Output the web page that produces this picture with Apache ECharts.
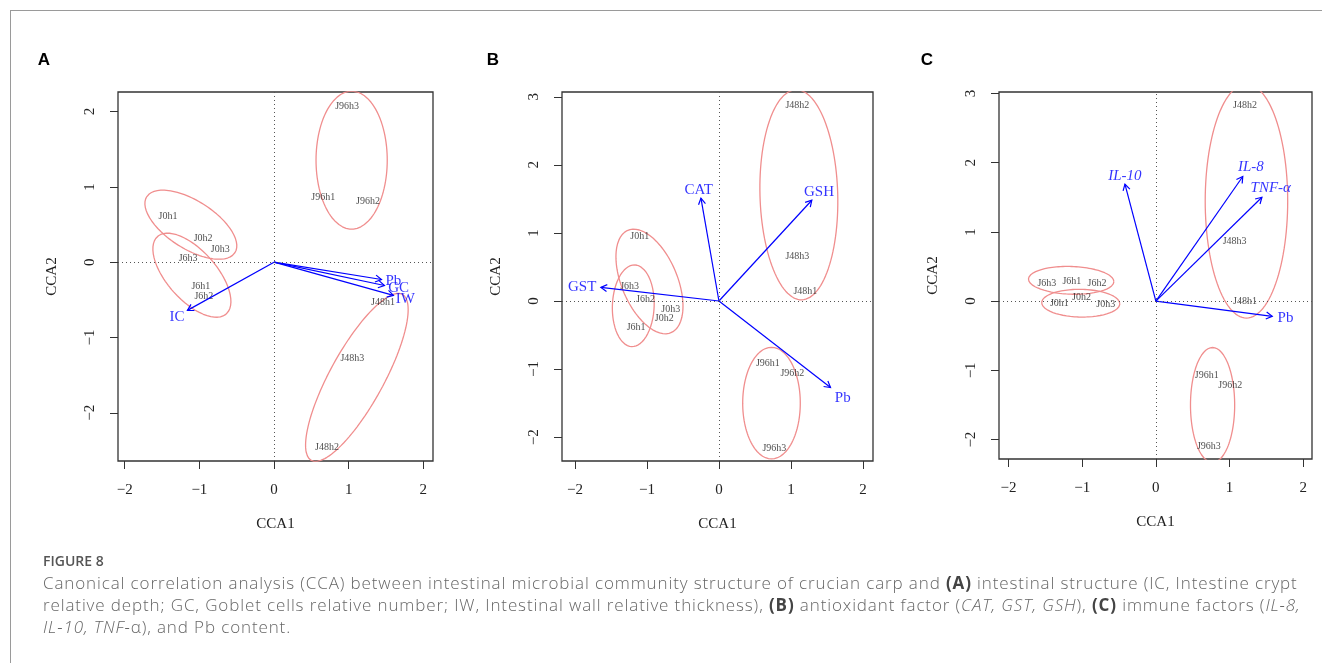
<!DOCTYPE html>
<html><head><meta charset="utf-8">
<script src="https://cdn.jsdelivr.net/npm/echarts@6/dist/echarts.min.js"></script>
<style>
html,body{margin:0;padding:0;background:#fff;}
#wrap{position:relative;width:1322px;height:663px;overflow:hidden;background:#fff;}
#chart{position:absolute;left:0;top:0;width:1322px;height:663px;}
#frame{position:absolute;left:10px;top:10px;width:1330px;height:700px;border-top:1.5px solid #9a9a9a;border-left:1.5px solid #9a9a9a;pointer-events:none;}
.cap{position:absolute;left:43px;font-family:'Open Sans',sans-serif;color:#666;white-space:nowrap;}
.cap b{color:#444;font-weight:700;}
#figlab{top:551px;font-size:14px;font-weight:600;color:#555;line-height:20px;}
#captxt{top:572px;font-size:17px;line-height:22px;letter-spacing:0.88px;font-weight:300;}
</style></head>
<body>
<div id="wrap">
<div id="chart"></div>
<div id="frame"></div>
<div class="cap" id="figlab">FIGURE 8</div>
<div class="cap" id="captxt">Canonical correlation analysis (CCA) between intestinal microbial community structure of crucian carp and <b>(A)</b> intestinal structure (IC, Intestine crypt<br>relative depth; GC, Goblet cells relative number; IW, Intestinal wall relative thickness), <b>(B)</b> antioxidant factor (<i>CAT, GST, GSH</i>), <b>(C)</b> immune factors (<i>IL-8,</i><br><i>IL-10, TNF-</i>α), and Pb content.</div>
</div>
<script>
// ---------------- DATA ----------------
const xTicks = [-2, -1, 0, 1, 2];
const yTicksA = [-2, -1, 0, 1, 2];
const yTicksBC = [-2, -1, 0, 1, 2, 3];
const panelLetters = ['A', 'B', 'C'];

// Panel A samples
const aSampleNames = ['J96h3','J96h1','J96h2','J0h1','J0h2','J0h3','J6h3','J6h1','J6h2','J48h1','J48h3','J48h2'];
const aSampleX = [0.98, 0.66, 1.26, -1.42, -0.95, -0.72, -1.15, -0.98, -0.94, 1.46, 1.05, 0.71];
const aSampleY = [2.07, 0.86, 0.81, 0.61, 0.32, 0.17, 0.05, -0.32, -0.46, -0.53, -1.28, -2.46];
// Panel A environmental arrows
const aVarNames = ['IC', 'Pb', 'GC', 'IW'];
const aVarX = [-1.16, 1.44, 1.48, 1.60];
const aVarY = [-0.64, -0.23, -0.31, -0.44];
const aVarLabelX = [-1.30, 1.60, 1.67, 1.76];
const aVarLabelY = [-0.73, -0.25, -0.35, -0.49];
// Panel A ellipses: [centerX, centerY, semiAxisA, semiAxisB, angleDeg]
const aEllipses = [[1.04, 1.355, 0.916, 0.477, 90], [1.11, -1.53, 1.26, 0.36, 61], [-1.114, 0.498, 0.698, 0.32, -32], [-1.10, -0.173, 0.69, 0.33, -48]];

// Panel B samples
const bSampleNames = ['J48h2','J48h3','J48h1','J0h1','J6h3','J6h2','J0h3','J0h2','J6h1','J96h1','J96h2','J96h3'];
const bSampleX = [1.09, 1.09, 1.20, -1.10, -1.24, -1.02, -0.67, -0.76, -1.15, 0.68, 1.02, 0.77];
const bSampleY = [2.87, 0.65, 0.14, 0.95, 0.21, 0.03, -0.13, -0.25, -0.38, -0.92, -1.07, -2.16];
const bVarNames = ['CAT', 'GSH', 'GST', 'Pb'];
const bVarX = [-0.25, 1.29, -1.64, 1.55];
const bVarY = [1.51, 1.48, 0.20, -1.27];
const bVarLabelX = [-0.28, 1.39, -1.90, 1.72];
const bVarLabelY = [1.63, 1.60, 0.21, -1.42];
const bEllipses = [[1.11, 1.56, 1.544, 0.54, 91.5], [-0.965, 0.287, 0.81, 0.39, -69], [-1.19, -0.07, 0.60, 0.29, 88], [0.73, -1.50, 0.82, 0.40, 90]];

// Panel C samples
const cSampleNames = ['J48h2','J48h3','J48h1','J6h3','J6h1','J6h2','J0h1','J0h2','J0h3','J96h1','J96h2','J96h3'];
const cSampleX = [1.21, 1.07, 1.21, -1.48, -1.14, -0.80, -1.31, -1.01, -0.68, 0.69, 1.01, 0.72];
const cSampleY = [2.82, 0.87, -0.01, 0.25, 0.28, 0.26, -0.03, 0.05, -0.05, -1.07, -1.21, -2.10];
const cVarNames = ['IL-10', 'IL-8', 'TNF-α', 'Pb'];
const cVarX = [-0.42, 1.18, 1.44, 1.58];
const cVarY = [1.69, 1.80, 1.50, -0.22];
const cVarLabelX = [-0.42, 1.29, 1.56, 1.76];
const cVarLabelY = [1.81, 1.93, 1.63, -0.25];
const cVarItalic = [true, true, true, false];
const cEllipses = [[1.23, 1.445, 1.69, 0.56, 90], [-1.15, 0.30, 0.58, 0.20, -2], [-1.02, -0.03, 0.53, 0.20, -1], [0.77, -1.50, 0.83, 0.30, 90]];

// Axis ranges
const xRanges = [[-2.09, 2.13], [-2.18, 2.14], [-2.13, 2.12]];
const yRanges = [[-2.64, 2.26], [-2.35, 3.07], [-2.28, 3.02]];

// ---------------- STYLE / LAYOUT ----------------
const SERIF = 'Liberation Serif';
const grids = [
  {left: 118, top: 92, width: 315, height: 369},
  {left: 562, top: 92, width: 311, height: 369},
  {left: 999, top: 92, width: 313, height: 367}
];
const letterPos = [[44, 60], [493, 60], [927, 60]];
const ELL_COLOR = '#f08e8e';
const ARROW_COLOR = '#0000ff';

function fmtTick(v) { return v < 0 ? '\u2212' + Math.abs(v) : String(v); }

function ellipsePoints(e) {
  const [cx, cy, a, b, deg] = e;
  const t0 = deg * Math.PI / 180;
  const pts = [];
  const n = 120;
  for (let i = 0; i <= n; i++) {
    const t = 2 * Math.PI * i / n;
    const px = a * Math.cos(t), py = b * Math.sin(t);
    pts.push([cx + px * Math.cos(t0) - py * Math.sin(t0), cy + px * Math.sin(t0) + py * Math.cos(t0)]);
  }
  return pts;
}

function renderArrow(params, api) {
  const p0 = api.coord([0, 0]);
  const p1 = api.coord([api.value(0), api.value(1)]);
  const ang = Math.atan2(p1[1] - p0[1], p1[0] - p0[0]);
  const L = 7, h = Math.PI / 6;
  const h1 = [p1[0] - L * Math.cos(ang - h), p1[1] - L * Math.sin(ang - h)];
  const h2 = [p1[0] - L * Math.cos(ang + h), p1[1] - L * Math.sin(ang + h)];
  return {
    type: 'group',
    children: [
      {type: 'line', shape: {x1: p0[0], y1: p0[1], x2: p1[0], y2: p1[1]}, style: {stroke: ARROW_COLOR, lineWidth: 1.2}},
      {type: 'polyline', shape: {points: [h1, p1, h2]}, style: {stroke: ARROW_COLOR, lineWidth: 1.2, fill: null}}
    ]
  };
}

const panels = [
  {names: aSampleNames, sx: aSampleX, sy: aSampleY, vn: aVarNames, vx: aVarX, vy: aVarY, lx: aVarLabelX, ly: aVarLabelY, it: [false,false,false,false], ell: aEllipses, yt: yTicksA},
  {names: bSampleNames, sx: bSampleX, sy: bSampleY, vn: bVarNames, vx: bVarX, vy: bVarY, lx: bVarLabelX, ly: bVarLabelY, it: [false,false,false,false], ell: bEllipses, yt: yTicksBC},
  {names: cSampleNames, sx: cSampleX, sy: cSampleY, vn: cVarNames, vx: cVarX, vy: cVarY, lx: cVarLabelX, ly: cVarLabelY, it: cVarItalic, ell: cEllipses, yt: yTicksBC}
];

const xAxes = [], yAxes = [], series = [], graphics = [];
panels.forEach((p, i) => {
  xAxes.push({
    type: 'value', gridIndex: i, min: xRanges[i][0], max: xRanges[i][1], position: 'bottom',
    axisLine: {show: false, onZero: false}, splitLine: {show: false},
    axisTick: {show: true, customValues: xTicks, length: 8, lineStyle: {color: '#333', width: 1}},
    axisLabel: {customValues: xTicks, formatter: fmtTick, margin: 22, fontFamily: SERIF, fontSize: 15, color: '#222'},
    name: 'CCA1', nameLocation: 'middle', nameGap: 56,
    nameTextStyle: {fontFamily: SERIF, fontSize: 15, color: '#222'}
  });
  yAxes.push({
    type: 'value', gridIndex: i, min: yRanges[i][0], max: yRanges[i][1], position: 'left',
    axisLine: {show: false, onZero: false}, splitLine: {show: false},
    axisTick: {show: true, customValues: p.yt, length: 8, lineStyle: {color: '#333', width: 1}},
    axisLabel: {customValues: p.yt, formatter: fmtTick, rotate: 90, margin: 20, fontFamily: SERIF, fontSize: 15, color: '#222'},
    name: 'CCA2', nameLocation: 'middle', nameGap: 58, nameRotate: 90,
    nameTextStyle: {fontFamily: SERIF, fontSize: 15, color: '#222'}
  });
  // sample labels + zero reference lines
  series.push({
    type: 'scatter', xAxisIndex: i, yAxisIndex: i, z: 3,
    symbolSize: 1, itemStyle: {color: 'rgba(0,0,0,0)'},
    data: p.names.map((n, k) => ({name: n, value: [p.sx[k], p.sy[k]]})),
    label: {show: true, position: 'inside', formatter: '{b}', fontFamily: SERIF, fontSize: 10, color: '#222'},
    markLine: {
      silent: true, symbol: 'none', label: {show: false},
      lineStyle: {color: '#555', type: [1, 3], width: 1},
      data: [{xAxis: 0}, {yAxis: 0}]
    }
  });
  // ellipses
  p.ell.forEach(e => {
    series.push({
      type: 'line', xAxisIndex: i, yAxisIndex: i, z: 2,
      showSymbol: false, smooth: false, silent: true,
      lineStyle: {color: ELL_COLOR, width: 1.3},
      data: ellipsePoints(e)
    });
  });
  // arrows
  series.push({
    type: 'custom', coordinateSystem: 'cartesian2d', xAxisIndex: i, yAxisIndex: i, z: 4,
    renderItem: renderArrow, silent: true,
    encode: {x: 0, y: 1},
    data: p.vx.map((x, k) => [x, p.vy[k]])
  });
  // arrow labels
  series.push({
    type: 'scatter', xAxisIndex: i, yAxisIndex: i, z: 5,
    symbolSize: 1, itemStyle: {color: 'rgba(0,0,0,0)'},
    data: p.vn.map((n, k) => ({name: n, value: [p.lx[k], p.ly[k]],
      label: {fontStyle: p.it[k] ? 'italic' : 'normal'}})),
    label: {show: true, position: 'inside', formatter: '{b}', fontFamily: SERIF, fontSize: 15, color: ARROW_COLOR}
  });
  graphics.push({
    type: 'text', x: letterPos[i][0], y: letterPos[i][1],
    style: {text: panelLetters[i], fontFamily: 'Liberation Sans', fontWeight: 'bold', fontSize: 17, fill: '#000', align: 'center', verticalAlign: 'middle'}
  });
});

const chart = echarts.init(document.getElementById('chart'), null, {renderer: 'canvas'});
chart.setOption({
  animation: false,
  backgroundColor: 'transparent',
  grid: grids.map(g => Object.assign({show: true, borderColor: '#333', borderWidth: 1.3, backgroundColor: 'transparent'}, g)),
  xAxis: xAxes,
  yAxis: yAxes,
  series: series,
  graphic: graphics
});
</script>
</body></html>
